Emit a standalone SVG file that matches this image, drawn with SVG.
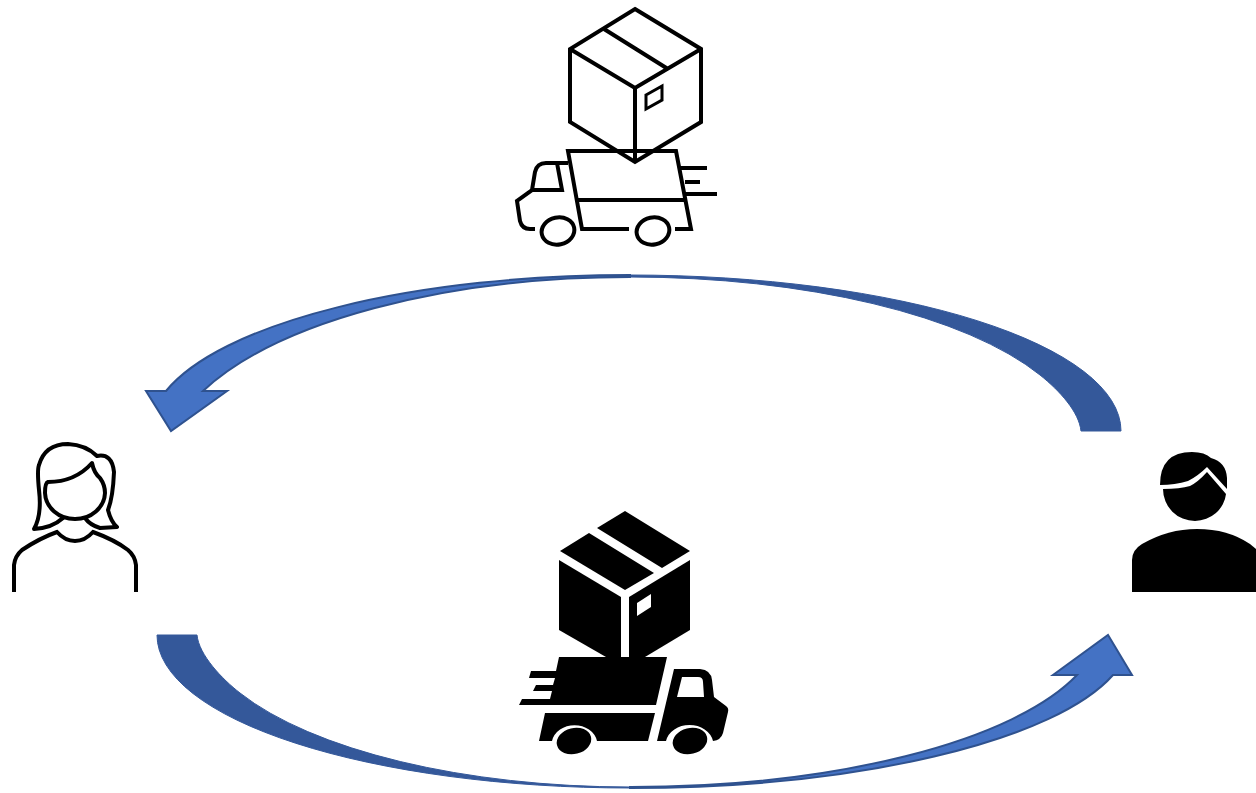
<svg xmlns="http://www.w3.org/2000/svg" width="1256" height="793" viewBox="0 0 1256 793">
<style>
.tail{fill:#34589a;stroke:#34589a;stroke-width:1}
.head{fill:#4472c4;stroke:#2f528f;stroke-width:2;stroke-linejoin:miter}
.line{fill:none;stroke:#000;stroke-width:4;stroke-linejoin:miter;stroke-linecap:butt}
.round{fill:none;stroke:#000;stroke-width:4;stroke-linejoin:round;stroke-linecap:round}
.solid{fill:#000;stroke:none}
.gap{fill:#fff;stroke:none}
</style>
<rect width="1256" height="793" fill="#fff"/>
<g id="connectors">
<path class="tail" d="M1121 431A491 156 0 0 0 630 275V277A453 170 0 0 1 1040 375C1060 391 1079 412 1081 431Z"/>
<path class="head" d="M630 275A480 156 0 0 0 166 391H146L171 431L227 391H203A466 190 0 0 1 630 277Z"/>
<path class="tail" d="M157 635A473 153 0 0 0 630 788V787A435 168 0 0 1 240 693C222 679 199 655 197 635Z"/>
<path class="head" d="M630 788A500 153 0 0 0 1113 675H1132L1108 635L1053 675H1077A470 164 0 0 1 630 787Z"/>
</g>
<g id="parcel-truck-outline">
<path class="line" d="M635 9L701 49V122L635 162L570 122V49Z"/>
<path class="line" d="M570 49L635 88L701 49M635 88V162M604 29L668 69"/>
<path class="line" style="stroke-width:3" d="M646 95L662 86V100L646 109Z"/>
<path class="line" d="M629 229H582L568 151H676L691 229H675M578 200H684"/>
<path class="line" d="M681 168H707M685 182H700M685 194H717"/>
<path class="line" d="M568 163H546Q537 163 535 172L532 190L517 201L520 221Q522 229 530 229H535M557 163L562 190H532"/>
<ellipse class="line" cx="558" cy="231" rx="16.500" ry="13.500" transform="rotate(-12 558 231)"/>
<ellipse class="line" cx="653" cy="231" rx="16.500" ry="13.500" transform="rotate(-12 653 231)"/>
</g>
<g id="parcel-truck-solid">
<path class="solid" d="M625 511L690 551L662 568L597 528Z"/>
<path class="solid" d="M589 533L654 573L625 590L560 551Z"/>
<path class="solid" d="M559 560L621 597V657H606L559 630Z"/>
<path class="solid" d="M629 597L690 560V630L645 657H629Z"/>
<path class="gap" d="M637 603L651 594V607L637 616Z"/>
<path class="solid" d="M559 657H667L656 705H519L522 699H550L552 691H533L536 685H553L555 678H529L531 671H556Z"/>
<path class="solid" d="M545 713H655L648 741H597A23 20 0 0 0 552 741H539Z"/>
<path class="solid" d="M674 669H700Q711 670 712 680L714 697L726 706Q729 708 728 712L723 733Q721 740 713 741A24 20 0 0 0 666 741H657Z"/>
<path class="gap" d="M682 677H698Q703 677 703 682L704 697H677Z"/>
<ellipse class="solid" cx="574" cy="741" rx="17.500" ry="13" transform="rotate(-14 574 741)"/>
<ellipse class="solid" cx="690" cy="741" rx="17.500" ry="13" transform="rotate(-14 690 741)"/>
</g>
<g id="woman">
<path class="round" d="M63 518Q52 528 34 529Q42 515 39 490Q37 470 39 465Q45 444 68 444Q86 445 97 456Q112 453 114 472Q113 497 108 510Q111 522 117 527L100 528Q90 525 85 518"/>
<path class="round" d="M48 482Q75 482 92 463Q94 473 100 478Q105 485 105 493A30 27 0 0 1 75 519A30 27 0 0 1 45 493Q45 483 48 482Z"/>
<path class="line" d="M14 592V565Q15 556 22 550Q40 538 57 532Q65 541 75 541Q85 541 93 532Q115 540 128 550Q135 556 136 565V592"/>
</g>
<g id="man">
<path class="solid" d="M1160 485Q1160 452 1192 452Q1205 452 1211 458Q1226 462 1227 478V489L1207 467Q1198 476 1188 481Q1175 485 1160 485Z"/>
<path class="solid" d="M1163 489Q1180 489 1190 486Q1198 482 1207 472L1226 494A32 30 0 0 1 1195 521A32 32 0 0 1 1163 489Z"/>
<path class="solid" d="M1132 592V560Q1132 550 1142 544Q1168 529 1197 529Q1228 529 1250 544L1256 549V592Z"/>
</g>
</svg>
